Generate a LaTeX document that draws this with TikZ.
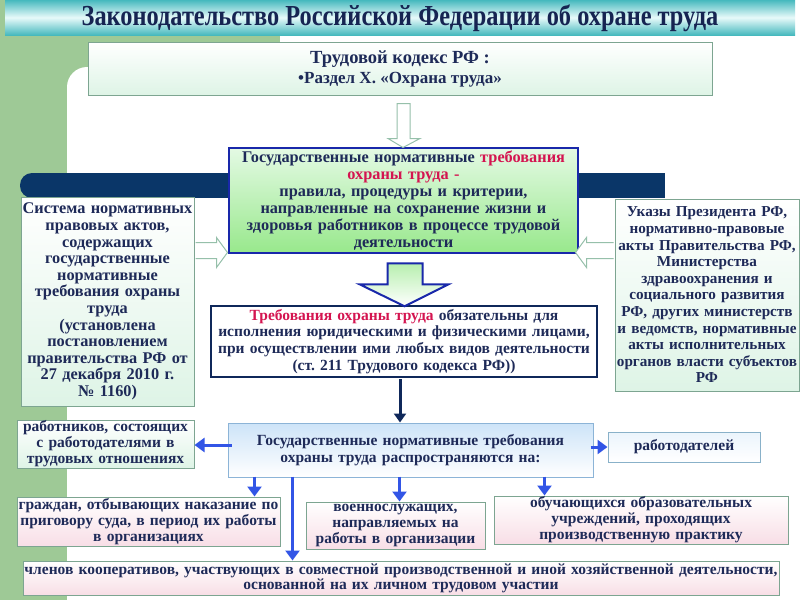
\documentclass[tikz,border=0pt]{standalone}
\usepackage{fontspec}
\setmainfont{Liberation Serif}
\frenchspacing
\usetikzlibrary{arrows.meta,calc}
\definecolor{bggreen}{RGB}{158,201,150}
\definecolor{teal1}{RGB}{70,185,190}
\definecolor{teal2}{RGB}{232,250,250}
\definecolor{navyband}{RGB}{10,54,104}
\definecolor{navytext}{RGB}{30,42,88}
\definecolor{titletext}{RGB}{22,36,82}
\definecolor{boxgreen}{RGB}{125,165,145}
\definecolor{mint}{RGB}{222,244,230}
\definecolor{gnblue}{RGB}{25,40,170}
\definecolor{gntop}{RGB}{228,250,228}
\definecolor{gnbot}{RGB}{152,232,140}
\definecolor{crim}{RGB}{212,20,80}
\definecolor{trnavy}{RGB}{15,40,90}
\definecolor{rsborder}{RGB}{140,180,215}
\definecolor{rstop}{RGB}{205,228,248}
\definecolor{pinkbot}{RGB}{248,222,230}
\definecolor{arrblue}{RGB}{50,85,230}
\definecolor{hollow}{RGB}{150,192,170}
\tikzset{
  boxtext/.style={text=navytext,font=\bfseries\fontsize{15.5}{16}\selectfont,align=center,inner sep=0pt},
  greenbox/.style={boxtext,draw=boxgreen,line width=1pt,top color=white,bottom color=mint},
  pinkbox/.style={boxtext,draw=boxgreen,line width=1pt,top color=white,bottom color=pinkbot},
  bluearrow/.style={draw=arrblue,line width=3pt,-{Triangle[width=14pt,length=10pt]}},
  navyarrow/.style={draw=trnavy,line width=3pt,-{Triangle[width=12pt,length=9pt]}},
  hollowarrow/.style={draw=hollow,line width=1pt,fill=white},
}
\begin{document}
\begin{tikzpicture}[x=1pt,y=-1pt]
\useasboundingbox (0,0) rectangle (800,600);
\fill[white] (0,0) rectangle (800,600);
% background
\fill[bggreen] (0,0) rectangle (67,600);
\fill[bggreen] (0,30) rectangle (280,95);
\fill[white,rounded corners=20] (67,67) rectangle (820,640);
% title band
\shade[top color=teal1,bottom color=teal1,middle color=teal2] (5,0) rectangle (795,35);
\node[text=titletext,font=\bfseries\fontsize{29}{31}\selectfont,inner sep=0pt] (ttl) at (400,18) {\scalebox{0.84}[1]{Законодательство Российской Федерации об охране труда}};
% navy band
\fill[navyband,rounded corners=12] (20,173) rectangle (60,198);
\fill[navyband] (40,173) rectangle (665,198);
% top box
\node[greenbox,minimum width=624,minimum height=53] (tk) at (400,68.5)
  {{\fontsize{18.5}{20}\selectfont Трудовой кодекс РФ :}\\[4pt]{\fontsize{17}{18}\selectfont •Раздел Х. «Охрана труда»}};
% center box
\node[boxtext,font=\bfseries\fontsize{16.3}{17}\selectfont,draw=gnblue,line width=2.5pt,top color=gntop,bottom color=gnbot,minimum width=349,minimum height=105,text width=345] (gn) at (403.5,200.5)
  {Государственные нормативные \textcolor{crim}{требования}\\ \textcolor{crim}{охраны труда -}\\ правила, процедуры и критерии,\\ направленные на сохранение жизни и\\ здоровья работников в процессе трудовой\\ деятельности};
% left box
\node[greenbox,font=\bfseries\fontsize{16.3}{16.6}\selectfont,minimum width=173,minimum height=209,text width=172] (sys) at (107.5,301.5)
  {Система нормативных\\ правовых актов,\\ содержащих\\ государственные\\ нормативные\\ требования охраны\\ труда\\ (установлена\\ постановлением\\ правительства РФ от\\ 27 декабря 2010 г.\\ № 1160)};
% right box
\node[greenbox,font=\bfseries\fontsize{15.2}{16.6}\selectfont,minimum width=184,minimum height=192,text width=183] (uk) at (707,295)
  {Указы Президента РФ,\\ нормативно-правовые\\ акты Правительства РФ,\\ Министерства\\ здравоохранения и\\ социального развития\\ РФ, других министерств\\ и ведомств, нормативные\\ акты исполнительных\\ органов власти субъектов\\ РФ};
% requirements box
\node[boxtext,font=\bfseries\fontsize{15.5}{16.8}\selectfont,draw=trnavy,line width=2.5pt,fill=white,minimum width=386,minimum height=71,text width=382] (tr) at (404,341.5)
  {\textcolor{crim}{Требования охраны труда} обязательны для\\ исполнения юридическими и физическими лицами,\\ при осуществлении ими любых видов деятельности\\ (ст. 211 Трудового кодекса РФ))};
% spreads box
\node[boxtext,font=\bfseries\fontsize{15.5}{17}\selectfont,draw=rsborder,line width=1pt,top color=rstop,bottom color=white,minimum width=365,minimum height=54,text width=360] (rs) at (410.5,450)
  {Государственные нормативные требования\\ охраны труда распространяются на:};
% targets
\node[greenbox,minimum width=177,minimum height=48,text width=175] (rab) at (105.5,444)
  {работников, состоящих\\ с работодателями в\\ трудовых отношениях};
\node[greenbox,top color=rstop!40,bottom color=white,draw=rsborder!80!boxgreen,minimum width=152,minimum height=30] (rd) at (684,447) {работодателей};
\node[pinkbox,minimum width=263,minimum height=49,text width=260] (gr) at (148.5,521.5)
  {граждан, отбывающих наказание по\\ приговору суда, в период их работы\\ в организациях};
\node[pinkbox,minimum width=179,minimum height=47,text width=176] (vo) at (395.5,525.5)
  {военнослужащих,\\ направляемых на\\ работы в организации};
\node[pinkbox,minimum width=294,minimum height=48,text width=290] (ob) at (641,520)
  {обучающихся образовательных\\ учреждений, проходящих\\ производственную практику};
\node[pinkbox,font=\bfseries\fontsize{15.5}{15}\selectfont,minimum width=756,minimum height=34,text width=754] (ch) at (401,578)
  {членов кооперативов, участвующих в совместной производственной и иной хозяйственной деятельности,\\ основанной на их личном трудовом участии};
% hollow arrow tk -> gn
\begin{scope}[shift={(tk.south)}]
\draw[hollowarrow] (-3,8) -- (10,8) -- (10,43) -- (20,43) -- (3,52) -- (-12,43) -- (-3,43) -- cycle;
\end{scope}
% hollow arrow sys -> gn
\begin{scope}[shift={(sys.north east)}]
\draw[hollowarrow] (1,46) -- (22,46) -- (22,41) -- (33,56) -- (22,71) -- (22,62) -- (1,62);
\end{scope}
% hollow arrow uk -> gn
\begin{scope}[shift={(uk.north west)}]
\draw[hollowarrow] (-1,44) -- (-28,44) -- (-28,39) -- (-39,54) -- (-28,69) -- (-28,60) -- (-1,60);
\end{scope}
% fat arrow gn -> tr
\begin{scope}[shift={(gn.south)}]
\shade[draw=gnblue,line width=2pt,top color=gnbot!70,bottom color=white] (-16,9) -- (19,9) -- (19,30) -- (45,30) -- (1,52) -- (-44,30) -- (-16,30) -- cycle;
\end{scope}
% connector start points
\coordinate (n0) at ($(tr.south)+(-4,1)$);
\coordinate (b1) at ($(rs.west)+(4,-5)$);
\coordinate (b2) at ($(rs.east)+(-3,-3)$);
\coordinate (b3) at ($(rs.south west)+(27,-1)$);
\coordinate (b4) at ($(rs.south west)+(65,-1)$);
\coordinate (b5) at ($(rs.south west)+(172,-1)$);
\coordinate (b6) at ($(rs.south west)+(317,-1)$);
% navy arrow tr -> rs
\draw[navyarrow] (n0) -- (n0 |- rs.north);
% blue arrows from rs
\draw[bluearrow] (b1) -- (b1 -| rab.east);
\draw[bluearrow] (b2) -- (b2 -| rd.west);
\draw[bluearrow] (b3) -- (b3 |- gr.north);
\draw[bluearrow] (b4) -- (b4 |- ch.north);
\draw[bluearrow] (b5) -- (b5 |- vo.north);
\draw[bluearrow] (b6) -- (b6 |- ob.north);
\end{tikzpicture}
\end{document}
